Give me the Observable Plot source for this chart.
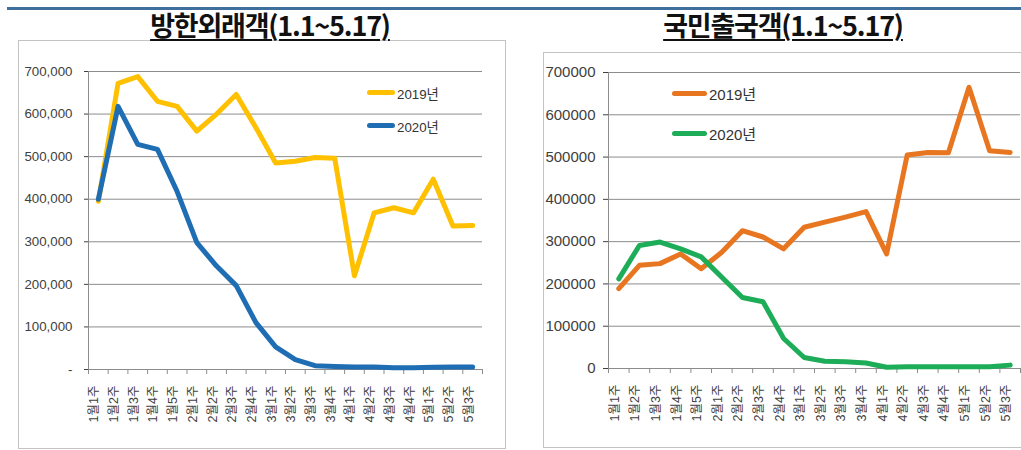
<!DOCTYPE html>
<html>
<head>
<meta charset="utf-8">
<script src="https://cdn.jsdelivr.net/npm/d3@7"></script>
<script src="https://cdn.jsdelivr.net/npm/@observablehq/plot@0.6"></script>
<style>
  html, body { margin: 0; padding: 0; background: #fff; }
  body { position: relative; width: 1021px; height: 450px; overflow: hidden;
         font-family: "Liberation Sans", "Noto Sans CJK KR", sans-serif; }
  .topline { position: absolute; left: 7px; right: 0; top: 7px; height: 3px; background: #3f6f9c; }
  .title { position: absolute; top: 9px; transform: translateX(-50%); white-space: nowrap;
           font-family: "Noto Sans CJK KR", sans-serif; font-weight: 700; font-size: 27px;
           letter-spacing: -1.2px; color: #111; text-decoration: underline;
           text-decoration-thickness: 2px; text-underline-offset: 3px; line-height: 1.2; }
  .panel { position: absolute; box-sizing: border-box; border: 1px solid #c3c3c3; background: #fff; }
  .chart { position: absolute; }
  .legend { position: absolute; display: flex; align-items: center; color: #333; white-space: nowrap; }
  .sw { display: inline-block; height: 5px; border-radius: 3px; margin-right: 2px; }
</style>
</head>
<body>
<div class="topline"></div>
<div class="panel" style="left:18px; top:40px; width:488px; height:409px;"></div>
<div class="panel" style="left:543px; top:52px; width:490px; height:396px;"></div>
<div class="title" style="left:270px;">방한외래객(1.1~5.17)</div>
<div class="title" style="left:783px;">국민출국객(1.1~5.17)</div>
<div id="left" class="chart" style="left:18px; top:41px;"></div>
<div id="right" class="chart" style="left:543px; top:53px;"></div>
<div id="legL"></div>
<div id="legR"></div>
<script>
// ---- data ----
const weeks = ["1월1주","1월2주","1월3주","1월4주","1월5주","2월1주","2월2주","2월3주","2월4주",
               "3월1주","3월2주","3월3주","3월4주","4월1주","4월2주","4월3주","4월4주","5월1주","5월2주","5월3주"];
const seriesNames = ["2019년", "2020년"];
const yTicks = [0, 100000, 200000, 300000, 400000, 500000, 600000, 700000];

// 방한외래객 (inbound visitors)
const inbound2019 = [395000, 672000, 688000, 630000, 618000, 560000, 600000, 646000, 568000, 485000,
                     489000, 498000, 496000, 220000, 368000, 380000, 368000, 447000, 337000, 338000];
const inbound2020 = [400000, 618000, 529000, 517000, 418000, 298000, 243000, 197000, 110000, 53000,
                     23000, 9000, 7000, 6000, 6000, 4000, 4000, 5000, 6000, 6000];

// 국민출국객 (outbound nationals)
const outbound2019 = [189000, 244000, 248000, 271000, 236000, 275000, 326000, 311000, 283000, 334000,
                      346000, 358000, 371000, 271000, 505000, 511000, 510000, 665000, 515000, 511000];
const outbound2020 = [212000, 291000, 299000, 283000, 264000, 216000, 168000, 158000, 71000, 26000,
                      17000, 16000, 13000, 3000, 4000, 4000, 4000, 4000, 4000, 8000];

const FONT = '"Liberation Sans", "Noto Sans CJK KR", sans-serif';
const GRID = "#8c8c8c";

function chart(cfg) {
  const boundaries = d3.range(weeks.length + 1).map(i => i - 0.5);
  const toRows = vals => vals.map((v, i) => ({i, v}));
  return Plot.plot({
    width: cfg.width, height: cfg.height,
    marginLeft: cfg.ml, marginRight: cfg.mr, marginTop: cfg.mt, marginBottom: cfg.mb,
    style: {fontFamily: FONT, fontSize: cfg.yFont + "px", color: "#404040", background: "transparent", overflow: "visible"},
    x: {type: "linear", domain: [-0.5, weeks.length - 0.5], axis: null},
    y: {domain: [0, 700000], ticks: yTicks, tickFormat: cfg.fmt, tickSize: cfg.tickSize,
        tickPadding: cfg.tickPadding, label: null},
    marks: [
      Plot.ruleY(yTicks.filter(v => v > 0), {stroke: GRID, strokeWidth: 1}),
      Plot.ruleX([-0.5], {stroke: GRID}),
      Plot.ruleY([0], {stroke: GRID}),
      Plot.ruleX(boundaries, {x: d => d, y1: () => 0, y2: () => 0, insetBottom: -5, stroke: GRID}),
      Plot.line(toRows(cfg.s19), {x: "i", y: "v", stroke: cfg.c19, strokeWidth: 5,
                                  strokeLinejoin: "round", strokeLinecap: "round"}),
      Plot.line(toRows(cfg.s20), {x: "i", y: "v", stroke: cfg.c20, strokeWidth: 5,
                                  strokeLinejoin: "round", strokeLinecap: "round"}),
      Plot.text(weeks, {x: (d, i) => i, text: d => d, frameAnchor: "bottom", rotate: -90,
                        textAnchor: "end", dy: 16, fontSize: 12.5, fill: "#404040"})
    ]
  });
}

const COLORS = {y19: "#FFC000", b20: "#1F6DB3", o19: "#E8751F", g20: "#1DAD58"};

document.getElementById("left").appendChild(chart({
  width: 487, height: 405, ml: 70, mr: 23, mt: 30, mb: 77,
  yFont: 13.3, tickSize: 4, tickPadding: 12,
  fmt: d => d === 0 ? "-" : d3.format(",")(d),
  s19: inbound2019, s20: inbound2020, c19: COLORS.y19, c20: COLORS.b20
}));

document.getElementById("right").appendChild(chart({
  width: 478, height: 394, ml: 65, mr: 1, mt: 19, mb: 79,
  yFont: 15, tickSize: 5, tickPadding: 8,
  fmt: d => String(d),
  s19: outbound2019, s20: outbound2020, c19: COLORS.o19, c20: COLORS.g20
}));

function legend(id, x, ys, swW, font, colors) {
  const host = document.getElementById(id);
  seriesNames.forEach((name, k) => {
    const el = document.createElement("div");
    el.className = "legend";
    el.style.left = x + "px";
    el.style.top = (ys[k] - font * 0.6) + "px";
    el.style.fontSize = font + "px";
    el.style.height = (font * 1.2) + "px";
    el.innerHTML = `<span class="sw" style="width:${swW}px;background:${colors[k]}"></span><span>${name}</span>`;
    host.appendChild(el);
  });
}
legend("legL", 367, [93, 126], 28, 13.3, [COLORS.y19, COLORS.b20]);
legend("legR", 672, [93, 133], 35, 15, [COLORS.o19, COLORS.g20]);
</script>
</body>
</html>
